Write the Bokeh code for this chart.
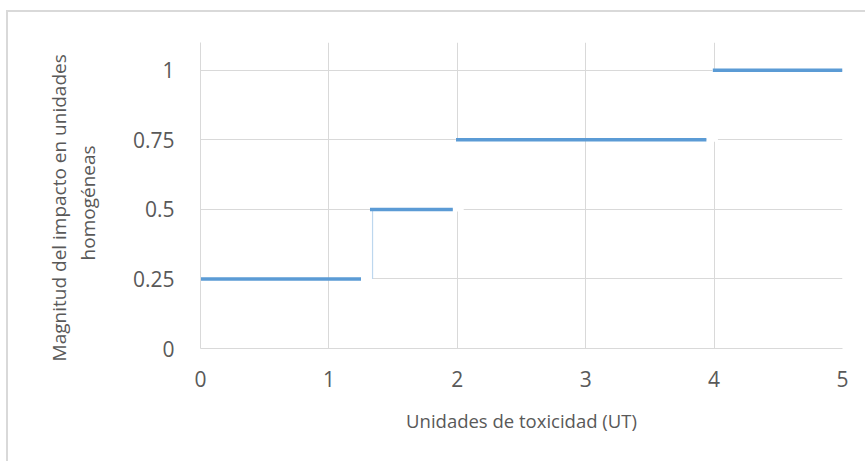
from bokeh.plotting import figure
from bokeh.models import Range1d, FixedTicker
from bokeh.embed import file_html
from bokeh.resources import INLINE

# Data
x_ticks = [0, 1, 2, 3, 4, 5]
y_ticks = [0, 0.25, 0.5, 0.75, 1]
y_tick_labels = ["0", "0.25", "0.5", "0.75", "1"]

step_x0 = [0, 1.32, 1.99, 3.99]
step_x1 = [1.25, 1.965, 3.94, 5.0]
step_y = [0.25, 0.5, 0.75, 1.0]

rise_x = [1.34]
rise_y0 = [0.25]
rise_y1 = [0.5]

gap_x0 = [1.25, 1.965, 2.0, 3.94, 4.0]
gap_x1 = [1.34, 2.05, 2.0, 4.03, 4.0]
gap_y0 = [0.25, 0.5, 0.5, 0.75, 0.75]
gap_y1 = [0.25, 0.5, 0.75, 0.75, 1.0]

FONT = "Open Sans"
TXT = "#595959"
GRID = "#D9D9D9"
BLUE = "#5B9BD5"
NB = "\u00a0"

p = figure(frame_width=642, frame_height=306,
           min_border_left=200, min_border_right=23,
           min_border_top=42, min_border_bottom=113,
           x_range=Range1d(0, 5), y_range=Range1d(0, 1.1),
           output_backend="svg", toolbar_location=None)
p.outline_line_color = None
p.background_fill_color = "white"
p.border_fill_color = None

# outer chart border (left and top edges visible in the window)
p.styles = {
    "background-color": "white",
    "background-image": "linear-gradient(#D9D9D9, #D9D9D9), linear-gradient(#D9D9D9, #D9D9D9)",
    "background-size": "2px 460px, 870px 2px",
    "background-position": "6px 10px, 6px 10px",
    "background-repeat": "no-repeat",
}

p.xaxis.ticker = FixedTicker(ticks=x_ticks)
p.yaxis.ticker = FixedTicker(ticks=y_ticks)
p.yaxis.major_label_overrides = {t: l for t, l in zip(y_ticks, y_tick_labels)}
p.xaxis.major_label_overrides = {t: str(t) for t in x_ticks}

for ax in (p.xaxis, p.yaxis):
    ax.major_tick_line_color = None
    ax.minor_tick_line_color = None
    ax.major_label_text_font = FONT
    ax.major_label_text_font_size = "21px"
    ax.major_label_text_color = TXT
    ax.axis_label_text_font = FONT
    ax.axis_label_text_color = TXT
    ax.axis_label_text_font_style = "normal"

p.xaxis.axis_line_color = GRID
p.yaxis.axis_line_color = GRID
p.xaxis.major_label_standoff = 16
p.yaxis.major_label_standoff = 20
p.xaxis.axis_label = "Unidades de toxicidad (UT)"
p.xaxis.axis_label_text_font_size = "18.5px"
p.xaxis.axis_label_standoff = 18
p.yaxis.axis_label = ("Magnitud del impacto en unidades" + NB * 5 + "\n"
                      + "homogéneas" + NB * 3)
p.yaxis.axis_label_text_font_size = "19px"
p.yaxis.axis_label_text_line_height = 1.12
p.yaxis.axis_label_standoff = 29

p.xgrid.grid_line_color = GRID
p.ygrid.grid_line_color = GRID
p.xgrid.ticker = FixedTicker(ticks=x_ticks)
p.ygrid.ticker = FixedTicker(ticks=y_ticks)

# white gaps in the grid (hidden connectors)
p.segment(x0=gap_x0, y0=gap_y0, x1=gap_x1, y1=gap_y1,
          line_color="white", line_width=4)
# light rising connector
p.segment(x0=rise_x, y0=rise_y0, x1=rise_x, y1=rise_y1,
          line_color="#BDD7EE", line_width=1.2)
# step segments
p.segment(x0=step_x0, y0=step_y, x1=step_x1, y1=step_y,
          line_color=BLUE, line_width=3.5)

open("out.html", "w").write(file_html(p, INLINE))
